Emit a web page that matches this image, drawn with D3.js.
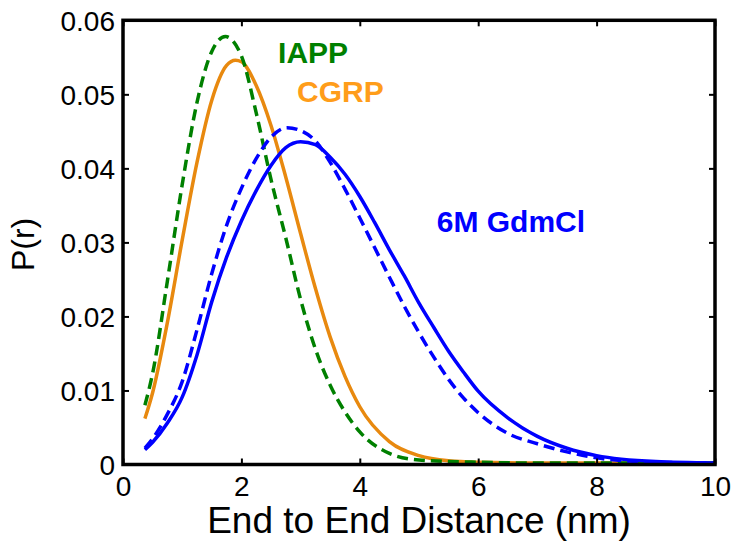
<!DOCTYPE html>
<html>
<head>
<meta charset="utf-8">
<script src="https://cdn.jsdelivr.net/npm/d3@7"></script>
<style>
  html, body { margin: 0; padding: 0; background: #fff; }
  svg { display: block; font-family: "Liberation Sans", Arial, Helvetica, sans-serif; }
</style>
</head>
<body>
<svg id="chart" width="735" height="543"></svg>
<script>
// ---- data ----
const xTicks = [0, 2, 4, 6, 8, 10];
const yTicks = [0, 0.01, 0.02, 0.03, 0.04, 0.05, 0.06];
const yTickLabels = ["0", "0.01", "0.02", "0.03", "0.04", "0.05", "0.06"];

const iappX = [0.37, 0.5, 0.75, 1.0, 1.25, 1.5, 1.73, 2.0, 2.25, 2.5, 2.75, 3.0, 3.25, 3.5, 3.75, 4.0, 4.5, 5.0, 6.0, 7.0, 10.0];
const iappY = [0.0080, 0.0123, 0.0248, 0.0378, 0.0489, 0.0558, 0.0578, 0.0552, 0.0475, 0.0385, 0.0306, 0.0223, 0.0156, 0.0107, 0.0071, 0.0044, 0.0015, 0.0006, 0.0003, 0.0002, 0.0002];

const cgrpX = [0.37, 0.5, 0.75, 1.0, 1.25, 1.5, 1.75, 1.9, 2.0, 2.25, 2.5, 2.75, 3.0, 3.25, 3.5, 3.75, 4.0, 4.5, 5.0, 5.5, 6.0, 7.0, 10.0];
const cgrpY = [0.0062, 0.0097, 0.0192, 0.0303, 0.0408, 0.0492, 0.0539, 0.0546, 0.0544, 0.0512, 0.0458, 0.0388, 0.0312, 0.0238, 0.0172, 0.0119, 0.0078, 0.0031, 0.0012, 0.0005, 0.0003, 0.0002, 0.0002];

const gdmDashX = [0.37, 0.5, 0.75, 1.0, 1.25, 1.5, 1.75, 2.0, 2.25, 2.5, 2.77, 3.0, 3.25, 3.5, 3.75, 4.0, 4.25, 4.5, 4.75, 5.0, 5.25, 5.5, 5.75, 6.0, 6.5, 7.0, 7.5, 8.0, 9.0, 10.0];
const gdmDashY = [0.0022, 0.0035, 0.0068, 0.0112, 0.0182, 0.0258, 0.0323, 0.0373, 0.0413, 0.0442, 0.0455, 0.0451, 0.0437, 0.0408, 0.0372, 0.0333, 0.0293, 0.0253, 0.0214, 0.0178, 0.0145, 0.0115, 0.0090, 0.0070, 0.0042, 0.0028, 0.0017, 0.0009, 0.0003, 0.0002];

const gdmSolidX = [0.37, 0.5, 0.75, 1.0, 1.25, 1.5, 1.75, 2.0, 2.25, 2.5, 2.75, 3.0, 3.25, 3.5, 3.75, 4.0, 4.25, 4.5, 4.75, 5.0, 5.25, 5.5, 5.75, 6.0, 6.5, 7.0, 7.5, 8.0, 9.0, 10.0];
const gdmSolidY = [0.0020, 0.0030, 0.0056, 0.0091, 0.0148, 0.0220, 0.0280, 0.0329, 0.0370, 0.0404, 0.0428, 0.0436, 0.0432, 0.0415, 0.0392, 0.0362, 0.0327, 0.0290, 0.0255, 0.0218, 0.0185, 0.0153, 0.0125, 0.0099, 0.0063, 0.0038, 0.0022, 0.0012, 0.0004, 0.0002];

const labels = ["IAPP", "CGRP", "6M GdmCl"];

// ---- layout ----
const svg = d3.select("#chart");
const L = 123, R = 715, T = 20.3, B = 464.5;
const x = d3.scaleLinear().domain([0, 10]).range([L, R]);
const y = d3.scaleLinear().domain([0, 0.06]).range([B, T]);

const green = "#008000", orange = "#e8890f", orangeText = "#ff9d1a", blue = "#0000ff";

const line = d3.line().x(d => x(d[0])).y(d => y(d[1])).curve(d3.curveMonotoneX);
const zip = (a, b) => a.map((v, i) => [v, b[i]]);

svg.append("clipPath").attr("id", "clip")
  .append("rect").attr("x", L).attr("y", T).attr("width", R - L).attr("height", B - T);

const g = svg.append("g").attr("clip-path", "url(#clip)");
const series = [
  { d: zip(cgrpX, cgrpY), c: orange, dash: null },
  { d: zip(iappX, iappY), c: green, dash: "11,6" },
  { d: zip(gdmSolidX, gdmSolidY), c: blue, dash: null },
  { d: zip(gdmDashX, gdmDashY), c: blue, dash: "11,6" }
];
series.forEach(s => {
  g.append("path").datum(s.d)
    .attr("d", line)
    .attr("fill", "none")
    .attr("stroke", s.c)
    .attr("stroke-width", 3.5)
    .attr("stroke-dasharray", s.dash);
});

// ---- axes (box with inward ticks) ----
const tickLen = 6;
const axB = svg.append("g").attr("transform", `translate(0,${B})`)
  .call(d3.axisBottom(x).tickValues(xTicks).tickSize(-tickLen).tickFormat(d3.format("d")));
const axT = svg.append("g").attr("transform", `translate(0,${T})`)
  .call(d3.axisTop(x).tickValues(xTicks).tickSize(-tickLen).tickFormat(""));
const axL = svg.append("g").attr("transform", `translate(${L},0)`)
  .call(d3.axisLeft(y).tickValues(yTicks).tickSize(-tickLen).tickPadding(8).tickFormat((d, i) => yTickLabels[i]));
const axR = svg.append("g").attr("transform", `translate(${R},0)`)
  .call(d3.axisRight(y).tickValues(yTicks).tickSize(-tickLen).tickFormat(""));

[axB, axT, axL, axR].forEach(a => {
  a.select(".domain").remove();
  a.selectAll(".tick line").attr("stroke", "#000").attr("stroke-width", 2);
  a.selectAll(".tick text").attr("fill", "#000").style("font-size", "28px")
    .style("font-family", "\"Liberation Sans\", Arial, Helvetica, sans-serif");
});
axB.selectAll(".tick text").attr("dy", "0.71em").attr("y", 12);
axL.selectAll(".tick text").attr("dy", "0.36em");

svg.append("rect").attr("x", L).attr("y", T).attr("width", R - L).attr("height", B - T)
  .attr("fill", "none").attr("stroke", "#000").attr("stroke-width", 3.5);

// ---- axis labels ----
svg.append("text").attr("x", (L + R) / 2).attr("y", 533)
  .attr("text-anchor", "middle").style("font-size", "37px").attr("fill", "#000")
  .text("End to End Distance (nm)");
svg.append("text").attr("transform", `translate(34,${(T + B) / 2 + 2}) rotate(-90)`)
  .attr("text-anchor", "middle").style("font-size", "32px").attr("fill", "#000")
  .text("P(r)");

// ---- in-plot labels ----
const ann = [
  { t: labels[0], x: 2.62, y: 0.0542, c: green },
  { t: labels[1], x: 2.94, y: 0.0489, c: orangeText },
  { t: labels[2], x: 5.30, y: 0.0314, c: blue }
];
ann.forEach(a => {
  svg.append("text").attr("x", x(a.x)).attr("y", y(a.y))
    .attr("fill", a.c).style("font-size", "30px").style("font-weight", "bold")
    .text(a.t);
});
</script>
</body>
</html>
